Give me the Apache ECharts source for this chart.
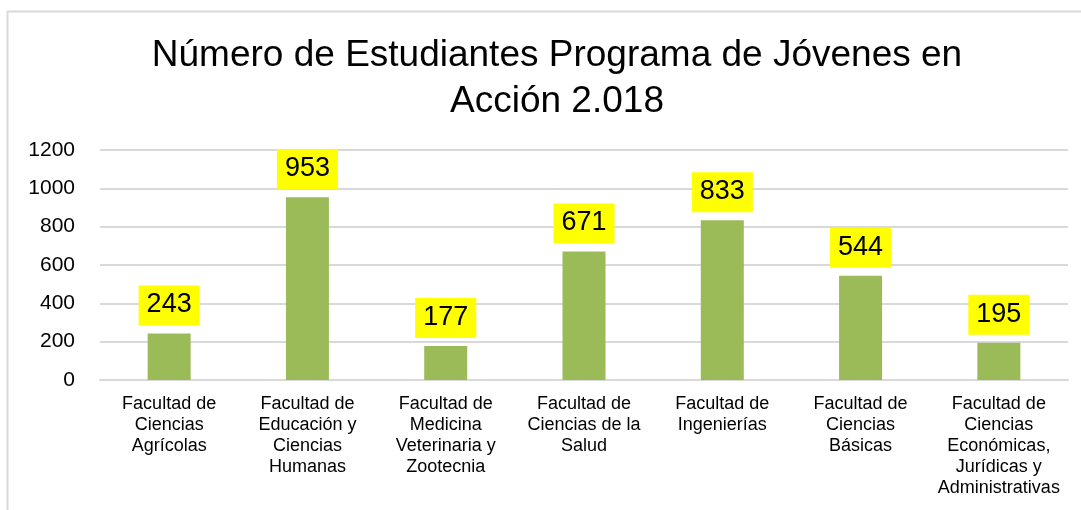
<!DOCTYPE html>
<html>
<head>
<meta charset="utf-8">
<script src="https://cdn.jsdelivr.net/npm/echarts@6.0.0/dist/echarts.min.js"></script>
<style>
  html, body { margin: 0; padding: 0; background: #fff; }
  #chart { width: 1081px; height: 510px; }
</style>
</head>
<body>
<div id="chart"></div>
<script>
var titleText = "Número de Estudiantes Programa de Jóvenes en\nAcción 2.018";

var facultades = [
  "Facultad de\nCiencias\nAgrícolas",
  "Facultad de\nEducación y\nCiencias\nHumanas",
  "Facultad de\nMedicina\nVeterinaria y\nZootecnia",
  "Facultad de\nCiencias de la\nSalud",
  "Facultad de\nIngenierías",
  "Facultad de\nCiencias\nBásicas",
  "Facultad de\nCiencias\nEconómicas,\nJurídicas y\nAdministrativas"
];

var estudiantes = [243, 953, 177, 671, 833, 544, 195];

var chart = echarts.init(document.getElementById("chart"), null, { renderer: "canvas" });

var option = {
  backgroundColor: "#fff",
  animation: false,
  textStyle: { fontFamily: "Liberation Sans, Arial, sans-serif" },
  graphic: [{
    type: "rect",
    shape: { x: 7.5, y: 11.5, width: 1090, height: 520 },
    style: { fill: "none", stroke: "#d9d9d9", lineWidth: 2 },
    silent: true
  }],
  title: {
    text: titleText,
    left: 552,
    top: 28,
    textAlign: "center",
    textStyle: {
      fontFamily: "Liberation Sans, Arial, sans-serif",
      fontSize: 37,
      fontWeight: "normal",
      color: "#000",
      lineHeight: 46
    }
  },
  grid: { left: 100, right: 13, top: 150, bottom: 130 },
  xAxis: {
    type: "category",
    data: facultades,
    axisLine: { lineStyle: { color: "#d9d9d9", width: 2 } },
    axisTick: { show: false },
    axisLabel: {
      interval: 0,
      margin: 14,
      color: "#000",
      fontSize: 18,
      lineHeight: 21,
      fontFamily: "Liberation Sans, Arial, sans-serif",
      align: "center",
      verticalAlign: "top"
    }
  },
  yAxis: {
    type: "value",
    min: 0,
    max: 1200,
    interval: 200,
    axisLine: { show: false },
    axisTick: { show: false },
    splitLine: { lineStyle: { color: "#d9d9d9", width: 2 } },
    axisLabel: {
      margin: 25,
      color: "#000",
      fontSize: 21,
      fontFamily: "Liberation Sans, Arial, sans-serif",
      formatter: function (v) { return String(v); }
    }
  },
  series: [{
    type: "bar",
    data: estudiantes,
    barWidth: 43,
    itemStyle: { color: "#9bbb59" },
    label: {
      show: true,
      position: "top",
      distance: 8,
      color: "#000",
      fontSize: 27,
      fontFamily: "Liberation Sans, Arial, sans-serif",
      backgroundColor: "#ffff00",
      padding: [6, 8, 7, 8]
    }
  }]
};

chart.setOption(option);
</script>
</body>
</html>
